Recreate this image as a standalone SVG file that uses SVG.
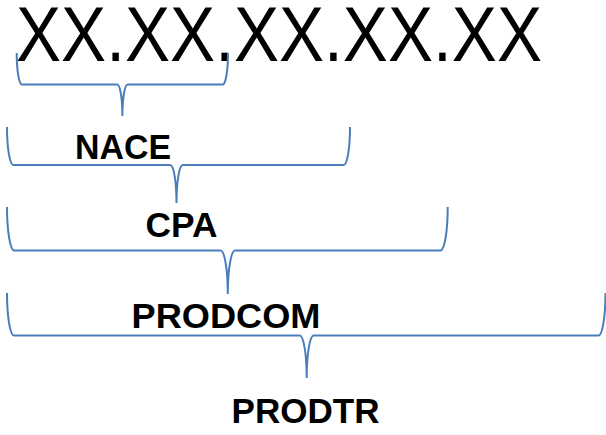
<svg xmlns="http://www.w3.org/2000/svg" width="606" height="435" viewBox="0 0 606 435">
<style>
.brace{fill:none;stroke:#4a7ebb;stroke-width:2;}
.code{font-family:"Liberation Sans",Arial,sans-serif;font-size:78px;fill:#000;}
.lbl{font-family:"Liberation Sans",Arial,sans-serif;font-size:35px;font-weight:bold;fill:#000;}
</style>
<rect width="606" height="435" fill="#fff"/>
<g id="code">
<text class="code" x="16" y="61" textLength="526" lengthAdjust="spacingAndGlyphs">XX.XX.XX.XX.XX</text>
</g>
<g id="connectors">
<path class="brace" d="M16.7,53 A5.2,31.5 0 0 0 21.9,84.5 H117.2 A5.2,31.5 0 0 1 122.4,116 A5.2,31.5 0 0 1 127.6,84.5 H222.8 A5.2,31.5 0 0 0 228,53"/>
<path class="brace" d="M7,127 A6.3,38 0 0 0 13.3,165 H170.2 A6.3,38 0 0 1 176.5,203 A6.3,38 0 0 1 182.8,165 H343.7 A6.3,38 0 0 0 350,127"/>
<path class="brace" d="M7,207 A7.2,43.5 0 0 0 14.2,250.5 H220.6 A7.2,43.5 0 0 1 227.8,294 A7.2,43.5 0 0 1 235,250.5 H440.5 A7.2,43.5 0 0 0 447.7,207"/>
<path class="brace" d="M7,293 A7,42.5 0 0 0 14,335.5 H299.7 A7,42.5 0 0 1 306.7,378 A7,42.5 0 0 1 313.7,335.5 H598.5 A7,42.5 0 0 0 605.5,293"/>
</g>
<g id="nace">
<text class="lbl" x="75" y="158.5" textLength="96" lengthAdjust="spacingAndGlyphs">NACE</text>
</g>
<g id="cpa">
<text class="lbl" x="145.5" y="236.7" textLength="72" lengthAdjust="spacingAndGlyphs">CPA</text>
</g>
<g id="prodcom">
<text class="lbl" x="131.5" y="328" textLength="189" lengthAdjust="spacingAndGlyphs">PRODCOM</text>
</g>
<g id="prodtr">
<text class="lbl" x="231.5" y="423" textLength="148" lengthAdjust="spacingAndGlyphs">PRODTR</text>
</g>
</svg>
